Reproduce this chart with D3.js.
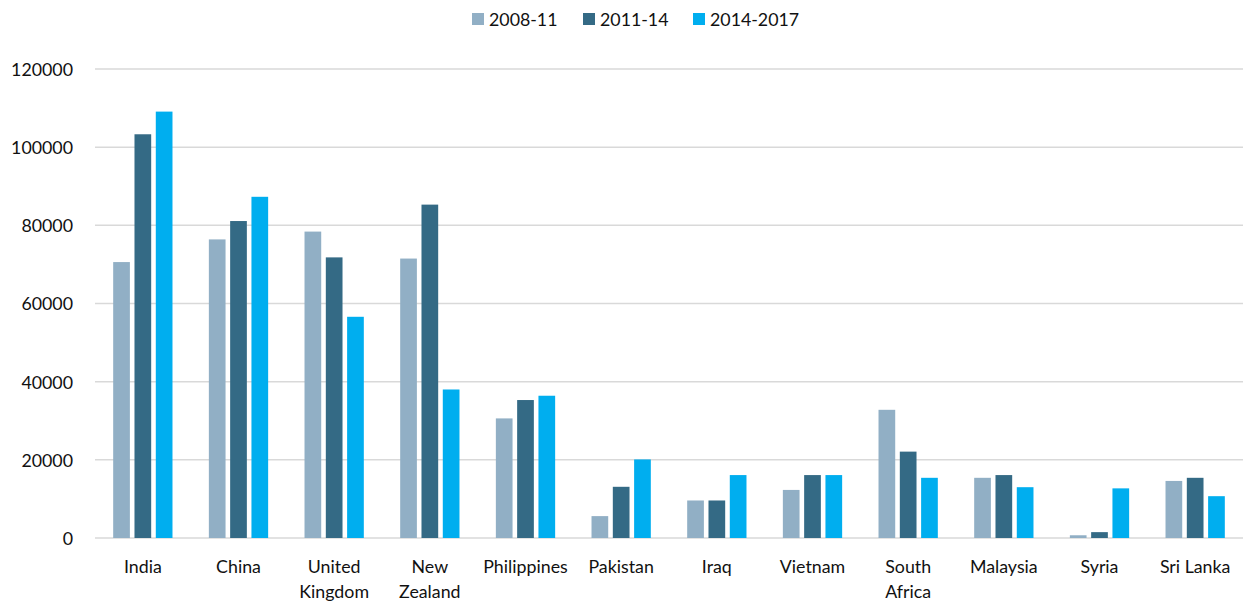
<!DOCTYPE html>
<html><head><meta charset="utf-8">
<script src="https://cdn.jsdelivr.net/npm/d3@7"></script>
<style>body{margin:0;background:#fff;} svg{display:block;font-family:Lato, "Open Sans", sans-serif;}</style>
</head><body><svg id="c" width="1245" height="608"></svg>
<script>
const categories = ["India","China","United Kingdom","New Zealand","Philippines","Pakistan","Iraq","Vietnam","South Africa","Malaysia","Syria","Sri Lanka"];
const tickLabels = ["India","China","United\nKingdom","New\nZealand","Philippines","Pakistan","Iraq","Vietnam","South\nAfrica","Malaysia","Syria","Sri Lanka"];
const seriesNames = ["2008-11","2011-14","2014-2017"];
const s2008 = [70600,76400,78400,71500,30600,5600,9600,12300,32800,15400,700,14600];
const s2011 = [103300,81100,71800,85300,35300,13100,9600,16100,22100,16100,1500,15400];
const s2014 = [109100,87300,56600,38000,36400,20100,16100,16100,15400,13000,12700,10700];
const yTicks = [0,20000,40000,60000,80000,100000,120000];
const colors = ["#91afc5","#346a85","#00aeef"];
const series = [s2008, s2011, s2014];

const svg = d3.select("#c");
const x = d3.scaleBand().domain(categories).range([95, 1243]).paddingInner(0).paddingOuter(0);
const y = d3.scaleLinear().domain([0,120000]).range([538, 69]);
const groupW = 59.3, slot = 21.3, barW = 16.7;
const txtCol = "#111";

// gridlines
svg.append("g").selectAll("line").data(yTicks).join("line")
  .attr("x1", 95).attr("x2", 1243)
  .attr("y1", d => y(d)).attr("y2", d => y(d))
  .attr("stroke", "#d9d9d9").attr("stroke-width", 1.5);

// y labels
const yAxis = d3.axisLeft(y).tickValues(yTicks).tickSize(0).tickPadding(0).tickFormat(d3.format("d"));
const ya = svg.append("g").attr("transform", "translate(73,0)").call(yAxis);
ya.select(".domain").remove();
ya.selectAll("text").attr("font-size", 17.8).attr("fill", txtCol).attr("font-family", "Lato, sans-serif").attr("dy", "0.36em");

// bars
series.forEach((s, si) => {
  svg.append("g").selectAll("rect").data(s).join("rect")
    .attr("x", (d, i) => x(categories[i]) + (x.bandwidth() - groupW) / 2 + si * slot)
    .attr("width", barW)
    .attr("y", d => y(d))
    .attr("height", d => y(0) - y(d))
    .attr("fill", colors[si]);
});

// x labels
const xl = svg.append("g");
categories.forEach((c, ci) => {
  const lines = tickLabels[ci].split("\n");
  const t = xl.append("text").attr("text-anchor", "middle")
    .attr("font-size", 17.8).attr("fill", txtCol);
  lines.forEach((w, i) => {
    t.append("tspan").attr("x", x(c) + x.bandwidth() / 2).attr("y", 573 + i * 25).text(w);
  });
});

// legend
const legX = [472, 583, 693];
seriesNames.forEach((n, i) => {
  svg.append("rect").attr("x", legX[i]).attr("y", 13).attr("width", 12).attr("height", 12).attr("fill", colors[i]);
  svg.append("text").attr("x", legX[i] + 17).attr("y", 25.5).attr("font-size", 17.8).attr("fill", txtCol).text(n);
});
</script></body></html>
